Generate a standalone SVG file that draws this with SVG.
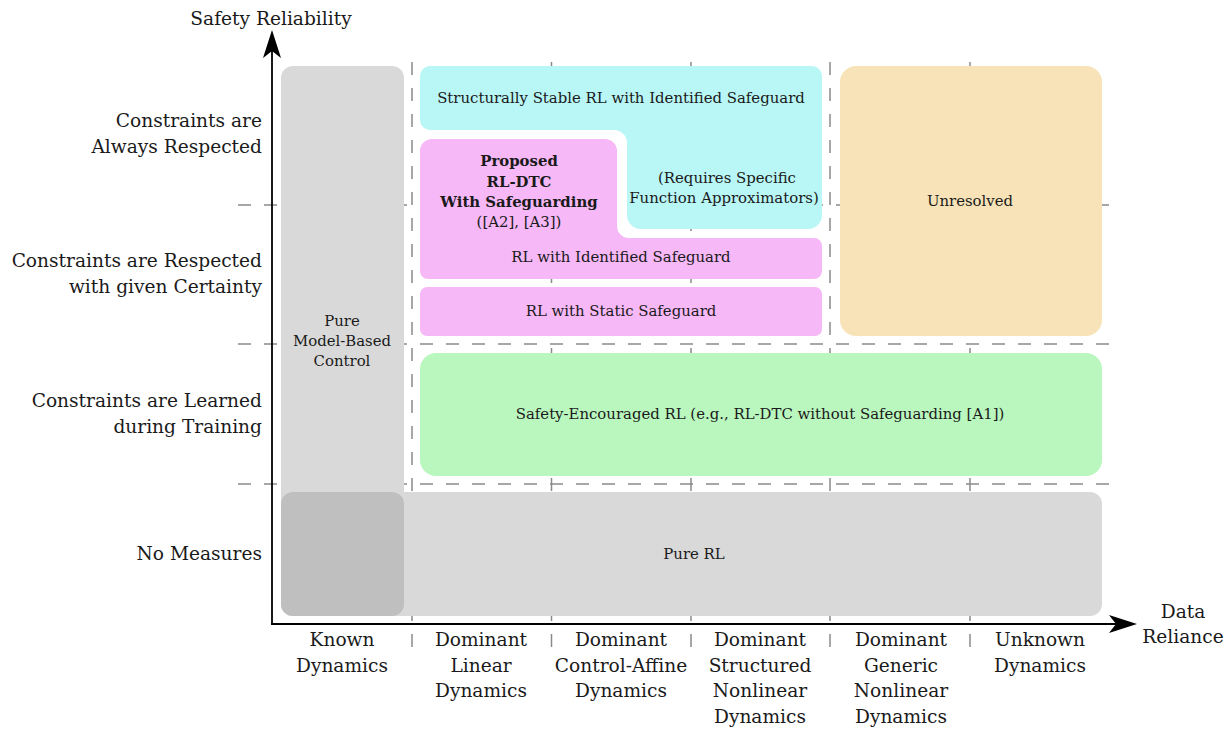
<svg xmlns="http://www.w3.org/2000/svg" width="1230" height="729" viewBox="0 0 1230 729">
<style>
.grid{stroke:#8a8a8a;stroke-width:1.5;stroke-dasharray:13 13;fill:none}
.axis{stroke:#000;stroke-width:1.8;fill:none}
text{font-family:"DejaVu Serif","Liberation Serif",serif;fill:#1a1a1a}
.ax{font-size:18.6px}
.bx{font-family:"DejaVu Serif","Liberation Serif",serif;font-size:14.9px;text-anchor:middle}
.bb{font-weight:bold}
.end{text-anchor:end}
.mid{text-anchor:middle}
</style>
<defs>
<marker id="stealth" markerUnits="userSpaceOnUse" viewBox="0 0 28 18" refX="21" refY="9" markerWidth="28" markerHeight="18" orient="auto">
<path d="M0,0 L28,9 L0,18 L7,9 Z" fill="#000"/>
</marker>
</defs>
<rect width="1230" height="729" fill="#fff"/>
<g id="grid">
<line class="grid" x1="412" y1="62" x2="412" y2="658"/>
<line class="grid" x1="551.5" y1="62" x2="551.5" y2="658"/>
<line class="grid" x1="691" y1="62" x2="691" y2="658"/>
<line class="grid" x1="830" y1="62" x2="830" y2="658"/>
<line class="grid" x1="970" y1="62" x2="970" y2="658"/>
<line class="grid" x1="238" y1="205" x2="1112" y2="205"/>
<line class="grid" x1="238" y1="344" x2="1112" y2="344"/>
<line class="grid" x1="238" y1="484" x2="1112" y2="484"/>
</g>
<g id="node-pure-model-based">
<rect x="281" y="66" width="123" height="550" rx="12" fill="#d9d9d9"/>
<text class="bx" x="342" y="326">Pure</text>
<text class="bx" x="342" y="346">Model-Based</text>
<text class="bx" x="342" y="366">Control</text>
</g>
<g id="node-pure-rl">
<rect x="281" y="492" width="821" height="124" rx="12" fill="#d9d9d9"/>
<rect x="281" y="492" width="123" height="124" rx="12" fill="#bfbfbf"/>
<text class="bx" x="694" y="559">Pure RL</text>
</g>
<g id="node-structurally-stable">
<path d="M430,66 L812,66 A10,10 0 0 1 822,76 L822,215 A14,14 0 0 1 808,229 L641,229 A14,14 0 0 1 627,215 L627,143 A13,13 0 0 0 614,130 L430,130 A10,10 0 0 1 420,120 L420,76 A10,10 0 0 1 430,66 Z" fill="#b9f6f6"/>
<text class="bx" x="621" y="103">Structurally Stable RL with Identified Safeguard</text>
<text class="bx" x="727" y="183">(Requires Specific</text>
<text class="bx" x="724" y="203">Function Approximators)</text>
</g>
<g id="node-identified-safeguard">
<path d="M432,139 L605,139 A12,12 0 0 1 617,151 L617,226 A12,12 0 0 0 629,238 L814,238 A8,8 0 0 1 822,246 L822,271 A8,8 0 0 1 814,279 L428,279 A8,8 0 0 1 420,271 L420,151 A12,12 0 0 1 432,139 Z" fill="#f6b8f6"/>
<text class="bx bb" x="519" y="166">Proposed</text>
<text class="bx bb" x="519" y="187">RL-DTC</text>
<text class="bx bb" x="519" y="207">With Safeguarding</text>
<text class="bx" x="519" y="227">([A2], [A3])</text>
<text class="bx" x="621" y="262">RL with Identified Safeguard</text>
</g>
<g id="node-static-safeguard">
<rect x="420" y="287" width="402" height="49" rx="7" fill="#f6b8f6"/>
<text class="bx" x="621" y="316">RL with Static Safeguard</text>
</g>
<g id="node-unresolved">
<rect x="840" y="66" width="262" height="270" rx="16" fill="#f7e3b7"/>
<text class="bx" x="970" y="206">Unresolved</text>
</g>
<g id="node-safety-encouraged">
<rect x="420" y="353" width="682" height="123" rx="16" fill="#baf7bf"/>
<text class="bx" x="760" y="419">Safety-Encouraged RL (e.g., RL-DTC without Safeguarding [A1])</text>
</g>
<g id="connectors">
<line class="axis" x1="272" y1="625" x2="272" y2="37" marker-end="url(#stealth)"/>
<line class="axis" x1="271" y1="624" x2="1130" y2="624" marker-end="url(#stealth)"/>
</g>
<g id="axis-labels">
<text class="ax mid" x="271" y="25">Safety Reliability</text>
<text class="ax mid" x="1183" y="618">Data</text>
<text class="ax mid" x="1183" y="643">Reliance</text>
<text class="ax end" x="262" y="127">Constraints are</text>
<text class="ax end" x="262" y="153">Always Respected</text>
<text class="ax end" x="262" y="267">Constraints are Respected</text>
<text class="ax end" x="262" y="293">with given Certainty</text>
<text class="ax end" x="262" y="407">Constraints are Learned</text>
<text class="ax end" x="262" y="433">during Training</text>
<text class="ax end" x="262" y="560">No Measures</text>
<text class="ax mid" x="342" y="646">Known</text>
<text class="ax mid" x="342" y="672">Dynamics</text>
<text class="ax mid" x="481" y="646">Dominant</text>
<text class="ax mid" x="481" y="672">Linear</text>
<text class="ax mid" x="481" y="697">Dynamics</text>
<text class="ax mid" x="621" y="646">Dominant</text>
<text class="ax mid" x="621" y="672">Control-Affine</text>
<text class="ax mid" x="621" y="697">Dynamics</text>
<text class="ax mid" x="760" y="646">Dominant</text>
<text class="ax mid" x="760" y="672">Structured</text>
<text class="ax mid" x="760" y="697">Nonlinear</text>
<text class="ax mid" x="760" y="723">Dynamics</text>
<text class="ax mid" x="901" y="646">Dominant</text>
<text class="ax mid" x="901" y="672">Generic</text>
<text class="ax mid" x="901" y="697">Nonlinear</text>
<text class="ax mid" x="901" y="723">Dynamics</text>
<text class="ax mid" x="1040" y="646">Unknown</text>
<text class="ax mid" x="1040" y="672">Dynamics</text>
</g>
</svg>
